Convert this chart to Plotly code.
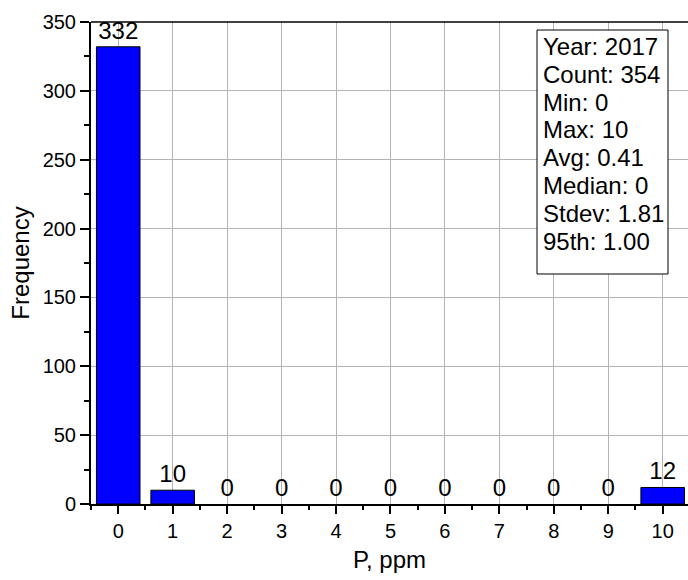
import plotly.graph_objects as go

# Histogram of P concentration, 2017
bins = [0, 1, 2, 3, 4, 5, 6, 7, 8, 9, 10]
counts = [332, 10, 0, 0, 0, 0, 0, 0, 0, 0, 12]
tick_labels = ["0", "1", "2", "3", "4", "5", "6", "7", "8", "9", "10"]
stats_lines = [
    "Year: 2017",
    "Count: 354",
    "Min: 0",
    "Max: 10",
    "Avg: 0.41",
    "Median: 0",
    "Stdev: 1.81",
    "95th: 1.00",
]

W, H = 688, 580
M_L, M_R, M_T, M_B = 91, 0, 22, 76
PW, PH = W - M_L - M_R, H - M_T - M_B
FONT = "Arial, Liberation Sans, sans-serif"


def px_x(px):
    return (px - M_L) / PW


def px_y(py):
    return 1 - (py - M_T) / PH


fig = go.Figure()
fig.add_trace(go.Bar(
    x=bins,
    y=counts,
    width=0.8,
    marker=dict(color="#0000FF",
                line=dict(color="black", width=[1 if c > 0 else 0 for c in counts])),
    text=[str(c) for c in counts],
    textposition="outside",
    textfont=dict(family=FONT, size=24, color="black"),
    cliponaxis=False,
))

# Statistics box
box_l, box_r, box_t, box_b = 537, 668, 30, 274
fig.add_shape(type="rect", xref="paper", yref="paper",
              x0=px_x(box_l), x1=px_x(box_r), y0=px_y(box_b), y1=px_y(box_t),
              line=dict(color="black", width=1), fillcolor="white", layer="above")
line_gap = 27.8
first_center = 46.5
for i, s in enumerate(stats_lines):
    fig.add_annotation(xref="paper", yref="paper",
                       x=px_x(541), y=px_y(first_center + i * line_gap),
                       xanchor="left", yanchor="middle", showarrow=False,
                       text=s, font=dict(family=FONT, size=24, color="black"))

# Top frame line
fig.add_shape(type="line", xref="paper", yref="paper", x0=0, x1=1, y0=1, y1=1,
              line=dict(color="black", width=1.5), layer="above")

fig.update_layout(
    width=W, height=H,
    margin=dict(l=M_L, r=M_R, t=M_T, b=M_B),
    paper_bgcolor="white", plot_bgcolor="white",
    showlegend=False,
    font=dict(family=FONT, color="black"),
    xaxis=dict(
        range=[-0.5, 10.465],
        tickmode="array", tickvals=bins, ticktext=tick_labels,
        ticks="outside", ticklen=8, tickwidth=1.5, tickcolor="black",
        tickfont=dict(size=20),
        minor=dict(ticks="outside", ticklen=4, tickwidth=1.5, tickcolor="black",
                   dtick=0.5, tick0=0, showgrid=False),
        showline=True, linecolor="black", linewidth=2,
        showgrid=True, gridcolor="#b4b4b4", gridwidth=1,
        zeroline=False,
        title=dict(text="P, ppm", font=dict(size=24), standoff=10),
    ),
    yaxis=dict(
        range=[0, 350],
        tickmode="linear", tick0=0, dtick=50,
        ticks="outside", ticklen=9, tickwidth=1.5, tickcolor="black",
        tickfont=dict(size=20),
        minor=dict(ticks="outside", ticklen=5, tickwidth=1.5, tickcolor="black",
                   dtick=25, tick0=0, showgrid=False),
        showline=True, linecolor="black", linewidth=2,
        showgrid=True, gridcolor="#b4b4b4", gridwidth=1,
        zeroline=False,
        title=dict(text="Frequency", font=dict(size=24), standoff=6),
    ),
)

fig.write_html("out.html")
